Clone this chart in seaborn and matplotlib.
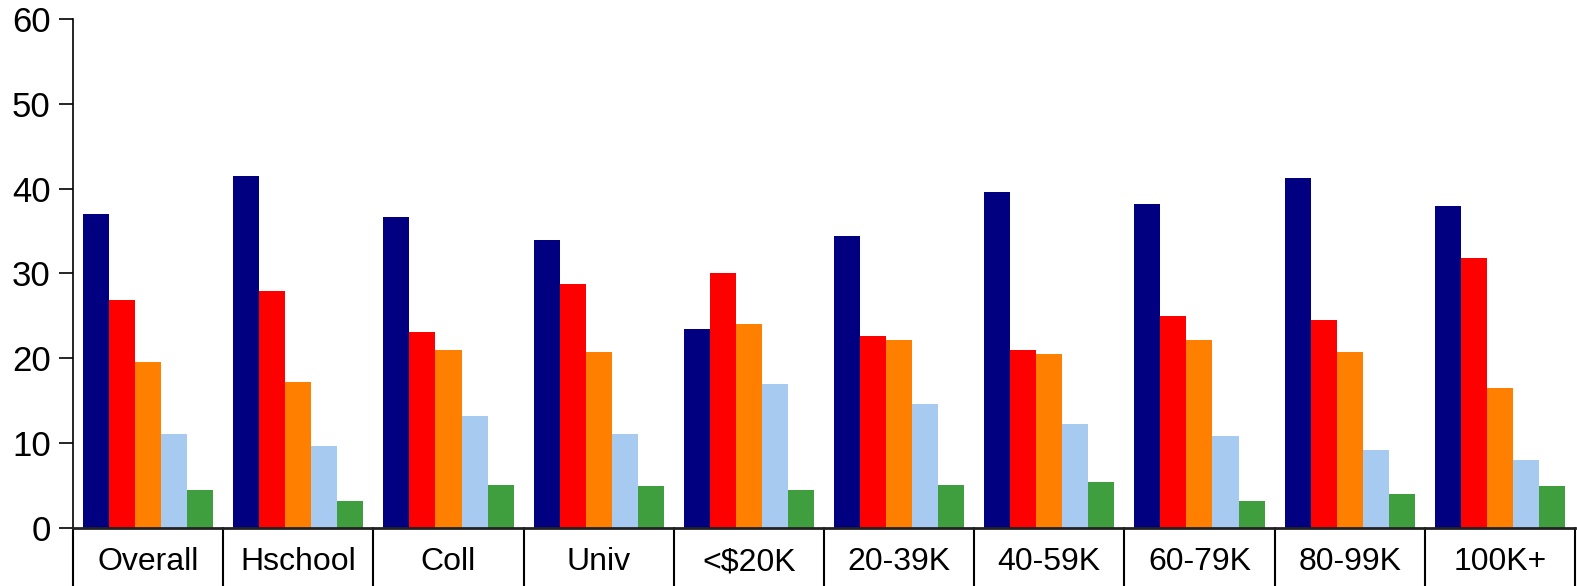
import matplotlib

matplotlib.use('Agg')

import matplotlib.pyplot as plt
import seaborn as sns
import pandas as pd

# ============================================================
# Data
# ============================================================

categories = ['Overall', 'Hschool', 'Coll', 'Univ', '<$20K',
              '20-39K', '40-59K', '60-79K', '80-99K', '100K+']

series_names = ['Series 1', 'Series 2', 'Series 3', 'Series 4', 'Series 5']

series_1 = [37.0, 41.5, 36.6, 34.0, 23.4, 34.4, 39.6, 38.2, 41.3, 38.0]
series_2 = [26.9, 27.9, 23.1, 28.8, 30.0, 22.6, 21.0, 25.0, 24.5, 31.8]
series_3 = [19.6, 17.2, 21.0, 20.8, 24.1, 22.2, 20.5, 22.2, 20.8, 16.5]
series_4 = [11.1, 9.7, 13.2, 11.1, 17.0, 14.6, 12.3, 10.9, 9.2, 8.0]
series_5 = [4.5, 3.2, 5.1, 5.0, 4.5, 5.1, 5.4, 3.2, 4.0, 5.0]

colors = ['#000080', '#FF0000', '#FF8000', '#A6CAF0', '#3F9F3F']

# long-form table for seaborn
rows = []
for name, values in zip(series_names,
                        [series_1, series_2, series_3, series_4, series_5]):
    for cat, val in zip(categories, values):
        rows.append({'category': cat, 'series': name, 'value': val})
df = pd.DataFrame(rows)

# ============================================================
# Figure
# ============================================================

sns.set_style('white')
plt.rcParams['font.family'] = ['Liberation Sans', 'DejaVu Sans']
plt.rcParams['text.color'] = 'black'
plt.rcParams['xtick.color'] = 'black'
plt.rcParams['ytick.color'] = 'black'

fig = plt.figure(figsize=(15.77, 5.86), dpi=100)
ax = fig.add_axes([0.0463, 0.099, 0.9987 - 0.0463, 0.8686])

sns.barplot(
    data=df,
    x='category',
    y='value',
    hue='series',
    order=categories,
    hue_order=series_names,
    palette=colors,
    width=0.867,
    saturation=1,
    linewidth=0,
    legend=False,
    ax=ax
)

ax.set_xlim(-0.5, len(categories) - 0.5)
ax.set_ylim(0, 60)
ax.set_yticks(range(0, 61, 10))

ax.set_xlabel('')
ax.set_ylabel('')

ax.tick_params(axis='y', which='major', direction='out', length=10,
               width=1.2, color='black', labelcolor='black',
               labelsize=25, pad=6, left=True)
ax.tick_params(axis='x', length=0, labelsize=23, labelcolor='black',
               pad=14)

for side in ['top', 'right']:
    ax.spines[side].set_visible(False)
ax.spines['left'].set_color('black')
ax.spines['left'].set_linewidth(1.2)
ax.spines['bottom'].set_color('#222222')
ax.spines['bottom'].set_linewidth(2)

# category box separators below the axis
fig_bottom = -0.099 / 0.8686
for i in range(len(categories) + 1):
    ax.axvline(i - 0.5, ymin=fig_bottom, ymax=0, color='black',
               linewidth=1.5, clip_on=False)

plt.savefig('out.png', dpi=100)
plt.close()
